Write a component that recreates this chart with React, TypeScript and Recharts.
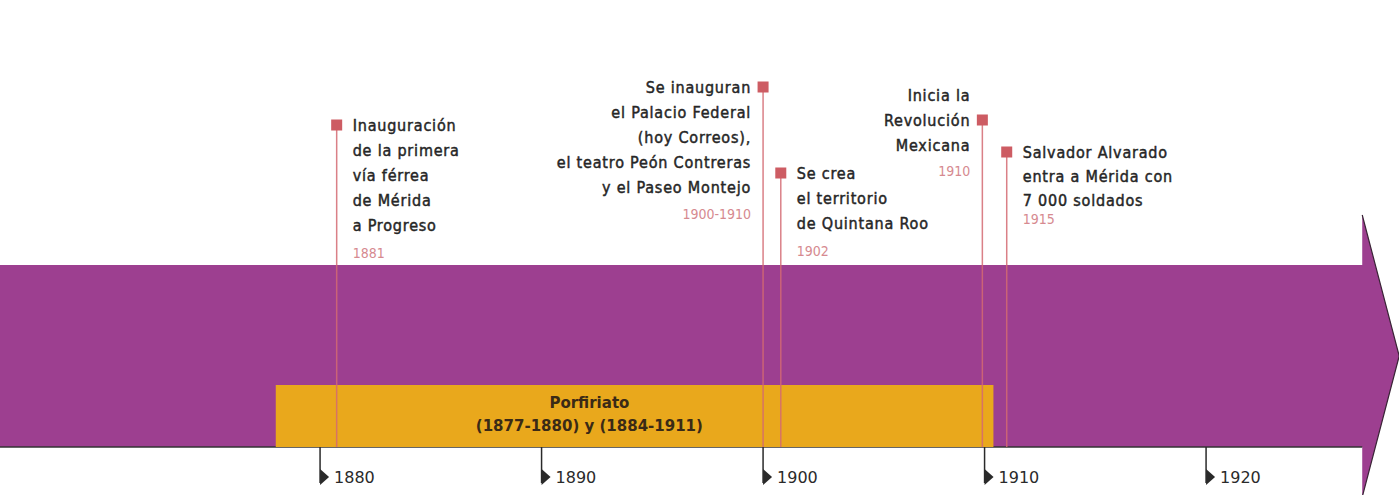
import { ComposedChart, XAxis, YAxis, ReferenceArea, ReferenceLine, Scatter } from "recharts";

// años del eje
const TICK_YEARS = [1880, 1890, 1900, 1910, 1920];

// eventos (posición en la línea de tiempo tal como está dibujada)
const EVENT_YEARS = [1880.75, 1900, 1900.8, 1909.9, 1911];
const EVENT_DATES = ["1881", "1900-1910", "1902", "1910", "1915"];
const EVENT_TEXT = [
  ["Inauguración", "de la primera", "vía férrea", "de Mérida", "a Progreso"],
  ["Se inauguran", "el Palacio Federal", "(hoy Correos),", "el teatro Peón Contreras", "y el Paseo Montejo"],
  ["Se crea", "el territorio", "de Quintana Roo"],
  ["Inicia la", "Revolución", "Mexicana"],
  ["Salvador Alvarado", "entra a Mérida con", "7 000 soldados"],
];

// periodo
const PERIOD_NAME = "Porfiriato";
const PERIOD_DATES = "(1877-1880) y (1884-1911)";
const PERIOD_START = 1878;
const PERIOD_END = 1910.4;

// extensión de la flecha
const TIMELINE_START = 1865.55;
const TIMELINE_END = 1927.05;
const DOMAIN_END = 1928.71;

// layout (px sobre la línea base)
const MARKER_LEVEL = [322, 360, 274, 327, 295];
const LABEL_SIDE = ["right", "left", "right", "left", "right"];
const FIRST_LINE_SHIFT = [0, 0, 0, -25, 0];
const LINE_GAP = [25, 25, 25, 25, 24];
const DATE_GAP = [27, 26, 27, 25, 18];
const BAND_HEIGHT = 182;
const PERIOD_HEIGHT = 62;

const PURPLE = "#9d3f90";
const ORANGE = "#e9a81c";
const MARK = "#cd5c63";
const LINE = "#d46a72";
const TEXT = "#262626";
const DATE = "#d68a90";
const FONT = "'DejaVu Sans Condensed', 'DejaVu Sans', sans-serif";

const events = EVENT_YEARS.map((x, i) => ({
  x,
  y: MARKER_LEVEL[i],
  lines: EVENT_TEXT[i],
  date: EVENT_DATES[i],
  side: LABEL_SIDE[i],
  shift: FIRST_LINE_SHIFT[i],
  gap: LINE_GAP[i],
  dateGap: DATE_GAP[i],
}));

function ArrowBand(props: any) {
  const { x, y, width, height } = props;
  const xa = x + width;
  const top = y - 50;
  const bottom = y + height + 50;
  const mid = y + height / 2;
  const tip = xa + 37;
  return (
    <g>
      <path
        d={`M${x},${y} H${xa} V${top} L${tip},${mid} L${xa},${bottom} V${y + height} H${x} Z`}
        fill={PURPLE}
      />
      <path d={`M${xa},${top} L${tip},${mid} L${xa},${bottom}`} fill="none" stroke="#3a2436" strokeWidth={1.2} />
      <line x1={x} y1={y + height} x2={xa} y2={y + height} stroke="#333" strokeWidth={1.5} />
    </g>
  );
}

function PeriodLabel(props: any) {
  const { x, y, width } = props.viewBox;
  const cx = x + width * 0.437;
  return (
    <g fontFamily="'DejaVu Sans', sans-serif" fontWeight="bold" fontSize={15} fill="#3a2a16" textAnchor="middle">
      <text x={cx} y={y + 23}>{PERIOD_NAME}</text>
      <text x={cx} y={y + 46}>{PERIOD_DATES}</text>
    </g>
  );
}

function EventMark(props: any) {
  const { cx, cy, payload } = props;
  const right = payload.side === "right";
  const tx = right ? cx + 16 : cx - 12;
  const anchor = right ? "start" : "end";
  const y0 = cy + payload.shift + 6;
  const n = payload.lines.length;
  return (
    <g>
      <rect x={cx - 5.5} y={cy - 5.5} width={11} height={11} fill={MARK} />
      <g
        fontFamily={FONT}
        fontSize={16}
        fill={TEXT}
        stroke={TEXT}
        strokeWidth={0.45}
        letterSpacing={0.8}
        textAnchor={anchor}
      >
        {payload.lines.map((l: string, i: number) => (
          <text key={i} x={tx} y={y0 + i * payload.gap}>{l}</text>
        ))}
      </g>
      <text
        x={tx}
        y={y0 + (n - 1) * payload.gap + payload.dateGap}
        fontFamily={FONT}
        fontSize={14}
        fill={DATE}
        textAnchor={anchor}
      >
        {payload.date}
      </text>
    </g>
  );
}

function YearTick(props: any) {
  const { x, y, payload } = props;
  return (
    <g>
      <line x1={x} y1={y} x2={x} y2={y + 36} stroke="#2a2a2a" strokeWidth={1.5} />
      <path d={`M${x},${y + 22} L${x + 9},${y + 30} L${x},${y + 38} Z`} fill="#2a2a2a" />
      <text x={x + 14} y={y + 36} fontFamily="'DejaVu Sans', sans-serif" fontSize={16} fill="#2a2a2a">
        {payload.value}
      </text>
    </g>
  );
}

export default function App() {
  return (
    <div style={{ position: "absolute", left: 0, top: 0, background: "#fff" }}>
      <ComposedChart width={1399} height={495} margin={{ top: 0, right: 0, bottom: 0, left: 0 }}>
        <XAxis
          type="number"
          dataKey="x"
          domain={[TIMELINE_START, DOMAIN_END]}
          allowDataOverflow
          ticks={TICK_YEARS}
          interval={0}
          height={48}
          axisLine={false}
          tickLine={false}
          tickSize={0}
          tickMargin={0}
          tick={<YearTick />}
        />
        <YAxis type="number" dataKey="y" domain={[0, 447]} hide allowDataOverflow />
        <ReferenceArea
          x1={TIMELINE_START}
          x2={TIMELINE_END}
          y1={0}
          y2={BAND_HEIGHT}
          shape={<ArrowBand />}
          fillOpacity={1}
        />
        <ReferenceArea
          x1={PERIOD_START}
          x2={PERIOD_END}
          y1={0}
          y2={PERIOD_HEIGHT}
          fill={ORANGE}
          fillOpacity={1}
          stroke="none"
          label={<PeriodLabel />}
        />
        {events.map((e, i) => (
          <ReferenceLine
            key={i}
            segment={[{ x: e.x, y: 0 }, { x: e.x, y: e.y }]}
            stroke={LINE}
            strokeWidth={1.5}
            strokeOpacity={0.85}
          />
        ))}
        <Scatter data={events} dataKey="y" shape={<EventMark />} isAnimationActive={false} />
      </ComposedChart>
    </div>
  );
}
